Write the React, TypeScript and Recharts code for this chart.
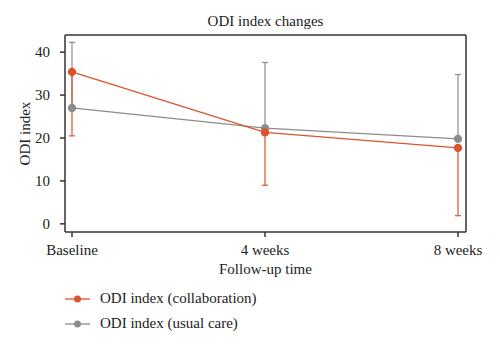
import React from 'react';
import {
  LineChart,
  Line,
  XAxis,
  YAxis,
  ErrorBar,
} from 'recharts';

const timepoints = ['Baseline', '4 weeks', '8 weeks'];
const collabMean = [35.4, 21.3, 17.7];
const collabLow = [20.5, 9.0, 1.9];
const usualMean = [27.0, 22.3, 19.8];
const usualHigh = [42.3, 37.6, 34.8];
const yTicks = [0, 10, 20, 30, 40];

const ORANGE = '#d9542c';
const GRAY = '#8c8c8c';
const AXIS = '#333333';
const FONT = '"Liberation Serif", "DejaVu Serif", serif';
const Y_DOMAIN: [number, number] = [-1.9, 44];

const data = timepoints.map((t, i) => ({
  time: t,
  collab: collabMean[i],
  usual: usualMean[i],
  collabErr: [collabMean[i] - collabLow[i], 0],
  usualErr: [0, usualHigh[i] - usualMean[i]],
}));

const legendItems = [
  { label: 'ODI index (collaboration)', color: ORANGE },
  { label: 'ODI index (usual care)', color: GRAY },
];

const tickStyle = { fontFamily: FONT, fontSize: 15, fill: '#222' };

export default function App() {
  return (
    <div style={{ position: 'absolute', left: 0, top: 0, width: 500, height: 349, background: '#fff' }}>
      <div
        style={{
          position: 'absolute',
          left: 65,
          width: 401,
          top: 13,
          textAlign: 'center',
          fontFamily: FONT,
          fontSize: 15,
          color: '#222',
        }}
      >
        ODI index changes
      </div>
      <LineChart
        width={500}
        height={349}
        data={data}
        margin={{ top: 34, right: 33, left: 5, bottom: 77 }}
      >
        <XAxis
          dataKey="time"
          padding={{ left: 7, right: 8 }}
          tick={tickStyle}
          tickSize={5}
          tickMargin={7}
          height={40}
          stroke={AXIS}
          strokeWidth={1.5}
          tickLine={{ stroke: AXIS }}
          label={{ value: 'Follow-up time', position: 'insideBottom', offset: -2, style: tickStyle }}
        />
        <XAxis
          xAxisId="top"
          dataKey="time"
          orientation="top"
          tick={false}
          tickLine={false}
          height={1}
          stroke={AXIS}
          strokeWidth={1.5}
        />
        <YAxis
          domain={Y_DOMAIN}
          ticks={yTicks}
          width={60}
          tick={tickStyle}
          tickSize={5}
          tickMargin={10}
          stroke={AXIS}
          strokeWidth={1.5}
          tickLine={{ stroke: AXIS }}
          label={{ value: 'ODI index', angle: -90, position: 'insideLeft', offset: 20, style: { ...tickStyle, textAnchor: 'middle' } }}
        />
        <YAxis
          yAxisId="right"
          orientation="right"
          domain={Y_DOMAIN}
          tick={false}
          tickLine={false}
          width={1}
          stroke={AXIS}
          strokeWidth={1.5}
        />
        <Line
          dataKey="usual"
          stroke={GRAY}
          strokeWidth={1.3}
          dot={{ r: 3.5, fill: GRAY, stroke: GRAY }}
          isAnimationActive={false}
        >
          <ErrorBar dataKey="usualErr" width={3} stroke={GRAY} strokeWidth={1.2} />
        </Line>
        <Line
          dataKey="collab"
          stroke={ORANGE}
          strokeWidth={1.3}
          dot={{ r: 3.5, fill: ORANGE, stroke: ORANGE }}
          isAnimationActive={false}
        >
          <ErrorBar dataKey="collabErr" width={3} stroke={ORANGE} strokeWidth={1.2} />
        </Line>
      </LineChart>
      <div style={{ position: 'absolute', left: 64, top: 286, fontFamily: FONT, fontSize: 15, color: '#222' }}>
        {legendItems.map((it) => (
          <div key={it.label} style={{ display: 'flex', alignItems: 'center', height: 25 }}>
            <svg width={30} height={10} style={{ marginRight: 6 }}>
              <line x1={1} y1={5} x2={26} y2={5} stroke={it.color} strokeWidth={1.3} />
              <circle cx={13.5} cy={5} r={3.5} fill={it.color} />
            </svg>
            <span>{it.label}</span>
          </div>
        ))}
      </div>
    </div>
  );
}
